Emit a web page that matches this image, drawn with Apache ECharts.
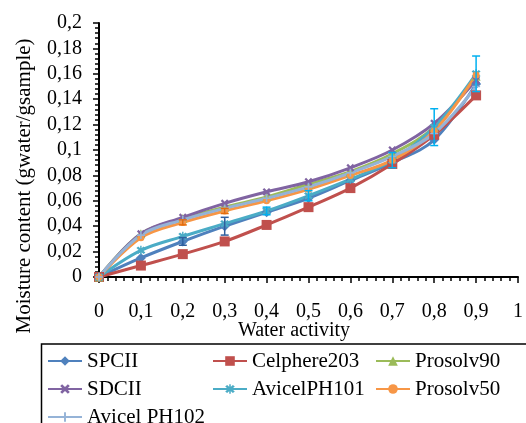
<!DOCTYPE html>
<html>
<head>
<meta charset="utf-8">
<style>
  html, body { margin: 0; padding: 0; background: #fff; }
  #chart { width: 526px; height: 423px; }
</style>
<script src="https://cdn.jsdelivr.net/npm/echarts@6/dist/echarts.min.js"></script>
</head>
<body>
<div id="chart"></div>
<script>
// water activity points
var aw = [0, 0.1, 0.2, 0.3, 0.4, 0.5, 0.6, 0.7, 0.8, 0.9]

// moisture content (g water / g sample)
var spcii = [0, 0.015, 0.028, 0.040, 0.051, 0.062, 0.076, 0.090, 0.108, 0.152]
var celphere203 = [0, 0.009, 0.018, 0.028, 0.041, 0.055, 0.070, 0.089, 0.112, 0.143]
var prosolv90 = [0, 0.034, 0.046, 0.055, 0.063, 0.073, 0.083, 0.097, 0.118, 0.158]
var sdcii = [0, 0.034, 0.047, 0.058, 0.067, 0.075, 0.086, 0.100, 0.121, 0.155]
var avicel101 = [0, 0.021, 0.032, 0.042, 0.052, 0.064, 0.077, 0.092, 0.118, 0.160]
var prosolv50 = [0, 0.031, 0.043, 0.052, 0.060, 0.069, 0.080, 0.092, 0.115, 0.159]
var avicel102 = [0, 0.033, 0.045, 0.054, 0.062, 0.071, 0.082, 0.095, 0.113, 0.150]

// error bars (half width), 0 = none
var spciiErr = [0, 0, 0.003, 0.007, 0, 0, 0, 0, 0, 0]
var avicel101Err = [0, 0, 0, 0, 0.003, 0.004, 0, 0.006, 0.0145, 0.014]
var prosolv50Err = [0, 0, 0.002, 0.002, 0, 0, 0, 0, 0, 0]

var font = 'Liberation Serif'

function pts (vals) {
  return aw.map(function (x, i) { return [x, vals[i]] })
}
function errPts (vals, errs) {
  var out = []
  for (var i = 0; i < aw.length; i++) {
    if (errs[i] > 0) out.push([aw[i], vals[i], errs[i]])
  }
  return out
}
function lineSeries (name, vals, color, symbol, size) {
  return {
    name: name,
    type: 'line',
    smooth: 0.35,
    data: pts(vals),
    symbol: symbol,
    symbolSize: size,
    color: color,
    lineStyle: { width: 3, color: color },
    itemStyle: { color: color },
    z: 3
  }
}
function errSeries (vals, errs, color) {
  return {
    type: 'custom',
    data: errPts(vals, errs),
    silent: true,
    z: 5,
    renderItem: function (params, api) {
      var x = api.value(0)
      var y = api.value(1)
      var e = api.value(2)
      var top = api.coord([x, y + e])
      var bot = api.coord([x, y - e])
      var st = { stroke: color, lineWidth: 1.5 }
      return {
        type: 'group',
        children: [
          { type: 'line', shape: { x1: top[0], y1: top[1], x2: bot[0], y2: bot[1] }, style: st },
          { type: 'line', shape: { x1: top[0] - 4, y1: top[1], x2: top[0] + 4, y2: top[1] }, style: st },
          { type: 'line', shape: { x1: bot[0] - 4, y1: bot[1], x2: bot[0] + 4, y2: bot[1] }, style: st }
        ]
      }
    }
  }
}

var xMark = 'path://M2,0 L5,3 L8,0 L10,2 L7,5 L10,8 L8,10 L5,7 L2,10 L0,8 L3,5 L0,2 Z'
var starMark = 'path://M2,0 L5,3 L8,0 L10,2 L7,5 L10,8 L8,10 L5,7 L2,10 L0,8 L3,5 L0,2 Z M4.2,-1 L5.8,-1 L5.8,11 L4.2,11 Z'
var plusMark = 'path://M4,0 L6,0 L6,4 L10,4 L10,6 L6,6 L6,10 L4,10 L4,6 L0,6 L0,4 L4,4 Z'

function fmt (v) {
  return String(+v.toFixed(2)).replace('.', ',')
}

var legendBase = {
  orient: 'vertical',
  top: 349,
  height: 120,
  padding: 0,
  itemGap: 4,
  itemWidth: 34,
  itemHeight: 12,
  textStyle: { fontFamily: font, fontSize: 21, color: '#000', lineHeight: 24 }
}

var chart = echarts.init(document.getElementById('chart'))
chart.setOption({
  backgroundColor: '#fff',
  animation: false,
  grid: { left: 99, right: 6, top: 23, bottom: 146 },
  legend: [
    Object.assign({ left: 47, data: ['SPCII', 'SDCII', 'Avicel PH102'] }, legendBase),
    Object.assign({ left: 212, data: ['Celphere203', 'AvicelPH101'] }, legendBase),
    Object.assign({ left: 375, data: ['Prosolv90', 'Prosolv50'] }, legendBase)
  ],
  xAxis: {
    type: 'value',
    min: 0,
    max: 1,
    interval: 0.1,
    axisLine: { lineStyle: { color: '#000', width: 2 } },
    axisTick: { length: 6, lineStyle: { color: '#000', width: 1.5 } },
    minorTick: { show: true, splitNumber: 5, length: 4, lineStyle: { color: '#000', width: 1.5 } },
    splitLine: { show: false },
    axisLabel: { formatter: fmt, margin: 25, fontFamily: font, fontSize: 20, color: '#000' }
  },
  yAxis: {
    type: 'value',
    min: 0,
    max: 0.2,
    interval: 0.02,
    axisLine: { show: true, lineStyle: { color: '#000', width: 2 } },
    axisTick: { show: true, length: 6, lineStyle: { color: '#000', width: 1.5 } },
    minorTick: { show: true, splitNumber: 5, length: 4, lineStyle: { color: '#000', width: 1.5 } },
    splitLine: { show: false },
    axisLabel: { formatter: fmt, margin: 17, fontFamily: font, fontSize: 20, color: '#000' }
  },
  graphic: [
    {
      type: 'text',
      x: 294,
      y: 331,
      style: { text: 'Water activity', fontFamily: font, fontSize: 20, fill: '#000', textAlign: 'center', textVerticalAlign: 'middle' }
    },
    {
      type: 'text',
      x: 24,
      y: 186,
      rotation: Math.PI / 2,
      style: { text: 'Moisture content (gwater/gsample)', fontFamily: font, fontSize: 21, fill: '#000', textAlign: 'center', textVerticalAlign: 'middle' }
    },
    {
      type: 'rect',
      shape: { x: 41.5, y: 344, width: 500, height: 100 },
      style: { fill: 'none', stroke: '#000', lineWidth: 1.5 },
      z: -1
    }
  ],
  series: [
    lineSeries('SPCII', spcii, '#4F81BD', 'diamond', 10),
    lineSeries('Celphere203', celphere203, '#C0504D', 'rect', 10),
    lineSeries('Prosolv90', prosolv90, '#9BBB59', 'triangle', 9),
    lineSeries('SDCII', sdcii, '#8064A2', xMark, 8),
    lineSeries('AvicelPH101', avicel101, '#4BACC6', starMark, 9),
    lineSeries('Prosolv50', prosolv50, '#F79646', 'circle', 7),
    lineSeries('Avicel PH102', avicel102, '#95B3D7', plusMark, 8),
    errSeries(spcii, spciiErr, '#2F5F9E'),
    errSeries(avicel101, avicel101Err, '#00B0F0'),
    errSeries(prosolv50, prosolv50Err, '#E46C0A')
  ]
})
</script>
</body>
</html>
